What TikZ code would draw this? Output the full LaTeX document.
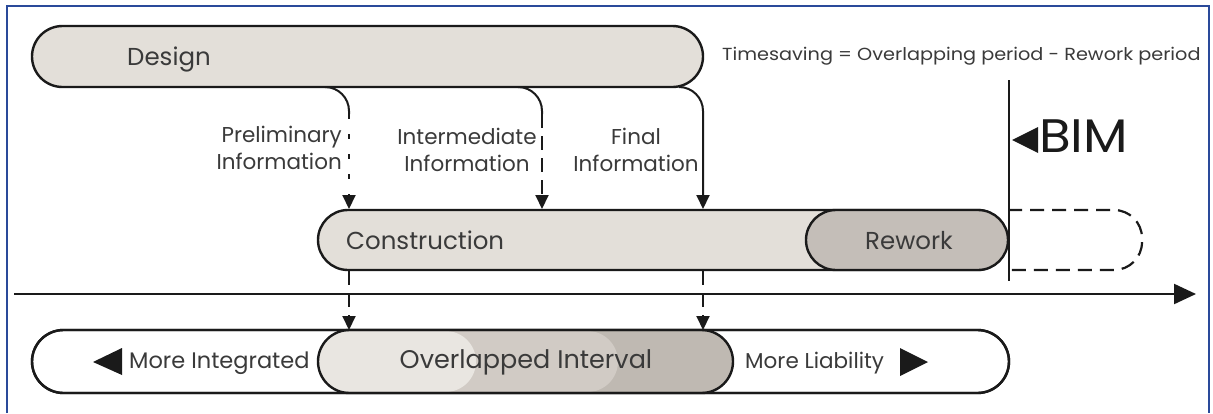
\documentclass[tikz,border=0pt]{standalone}
\usepackage{fontspec}
\setmainfont{Poppins}
\newfontfamily\widefont[FakeStretch=1.1]{Poppins}
\usetikzlibrary{arrows.meta,shapes.misc}

\definecolor{framecol}{HTML}{2A4A9A}
\definecolor{phasefill}{HTML}{E3DFD9}
\definecolor{reworkfill}{HTML}{C4BEB8}
\definecolor{ovlight}{HTML}{E9E6E1}
\definecolor{ovmid}{HTML}{D1CBC5}
\definecolor{ovdark}{HTML}{BFB9B2}
\definecolor{ink}{HTML}{1A1A1A}
\definecolor{txt}{HTML}{3A3A3A}

\tikzset{
  phase/.style={rounded rectangle, draw=ink, line width=2.4pt, inner sep=0pt},
  lbl/.style={text=txt, inner sep=0pt, font=\fontsize{21.5}{24}\selectfont},
  infolbl/.style={text=txt, inner sep=0pt, font=\fontsize{21.5}{27}\selectfont},
  biglbl/.style={text=txt, inner sep=0pt, font=\fontsize{24.5}{28}\selectfont},
  flow/.style={draw=ink, line width=2pt},
  tip/.style={-{Triangle[length=14pt,width=13pt]}},
  dashline/.style={dash pattern=on 14pt off 8pt},
  dotline/.style={dash pattern=on 5pt off 15pt},
}

\begin{document}
\begin{tikzpicture}[x=1pt,y=-1pt]
\useasboundingbox (0,0) rectangle (1213,413);

% outer frame
\draw[framecol, line width=1.5pt] (7,413) -- (7,6) -- (1209,6) -- (1209,413);

% design phase
\node[phase, fill=phasefill, minimum width=671pt, minimum height=61pt] (design) at (367.5,56.5) {};
\node[biglbl, anchor=base west] (designtxt) at (127,65) {Design};

\node[text=txt, inner sep=0pt, font=\widefont\fontsize{17.5}{20}\selectfont, anchor=base west] (formula) at (722,60)
  {Timesaving = Overlapping period - Rework period};

% construction phase with rework and the dashed extension
\draw[ink, line width=2.2pt, dashline, rounded corners=28pt]
  (1008,210) -- (1142,210) -- (1142,270) -- (1008,270);
\node[phase, fill=phasefill, minimum width=689pt, minimum height=60pt] (construction) at (662.5,240) {};
\node[phase, fill=reworkfill, minimum width=202pt, minimum height=60pt] (rework) at (907,240) {};
\node[biglbl, anchor=base west] (constxt) at (346,249) {Construction};
\node[biglbl, anchor=base] (reworktxt) at (909,249) {Rework};

% information flows from design to construction
\coordinate (p0) at (325,87);  \coordinate (p1) at (349,114); \coordinate (p2) at (349,209);
\coordinate (i0) at (518,87);  \coordinate (i1) at (542,114); \coordinate (i2) at (542,209);
\coordinate (f0) at (679,87);  \coordinate (f2) at (703,209);

\draw[flow, rounded corners=24pt] (p0) -| (p1);
\draw[flow, dotline, tip] (p1) -- (p2);
\draw[flow, rounded corners=24pt] (i0) -| (i1);
\draw[flow, dashline, tip] (i1) -- (i2);
\draw[flow, rounded corners=24pt, tip] (f0) -| (f2);

\node[infolbl, align=right, anchor=east] (prelim) at (342,148) {Preliminary\\Information};
\node[infolbl, align=center] (inter) at (467,150) {Intermediate\\Information};
\node[infolbl, align=center] (final) at (636,150) {Final\\Information};

% BIM marker
\coordinate (bimtop) at (1009,80);
\coordinate (bimbot) at (1009,281);
\draw[ink, line width=2.2pt] (bimtop) -- (bimbot);
\fill[ink] (1012,140) -- (1038,127) -- (1038,153) -- cycle;
\node[text=ink, inner sep=0pt, anchor=base west, font=\widefont\fontsize{47}{50}\selectfont] (bim) at (1039,152) {BIM};

% time axis
\coordinate (axisL) at (14,294);
\coordinate (axisR) at (1196,294);
\draw[ink, line width=2.2pt, -{Triangle[length=22pt,width=20pt]}] (axisL) -- (axisR);

% overlap band
\node[phase, fill=white, minimum width=977pt, minimum height=63pt] (band) at (520.5,361.5) {};
\node[rounded rectangle, fill=ovdark, inner sep=0pt, minimum width=415pt, minimum height=61pt] (ovdarknode) at (525.5,361.5) {};
\node[rounded rectangle, fill=ovmid, inner sep=0pt, minimum width=300pt, minimum height=61pt] (ovmidnode) at (468,361.5) {};
\node[rounded rectangle, fill=ovlight, inner sep=0pt, minimum width=158pt, minimum height=61pt] (ovlightnode) at (397,361.5) {};
\node[rounded rectangle, draw=ink, line width=2.4pt, inner sep=0pt, minimum width=415pt, minimum height=63pt] (overlap) at (525.5,361.5) {};
\node[phase, minimum width=977pt, minimum height=63pt] (bandline) at (520.5,361.5) {};

\node[biglbl, font=\fontsize{25.5}{28}\selectfont, anchor=base] (ovtxt) at (526,368) {Overlapped Interval};
\fill[ink] (93,362) -- (122,348) -- (122,375) -- cycle;
\node[lbl, font=\fontsize{22.5}{24}\selectfont, anchor=base west] (integrated) at (129,368) {More Integrated};
\node[lbl, anchor=base west] (liability) at (745,368) {More Liability};
\fill[ink] (928,362) -- (900,348) -- (900,376) -- cycle;

% dashed links from construction to the overlap band
\coordinate (c1) at (349,271); \coordinate (c2) at (349,330);
\coordinate (c3) at (703,271); \coordinate (c4) at (703,330);
\draw[flow, dashline, tip] (c1) -- (c2);
\draw[flow, dashline, tip] (c3) -- (c4);
\end{tikzpicture}
\end{document}
